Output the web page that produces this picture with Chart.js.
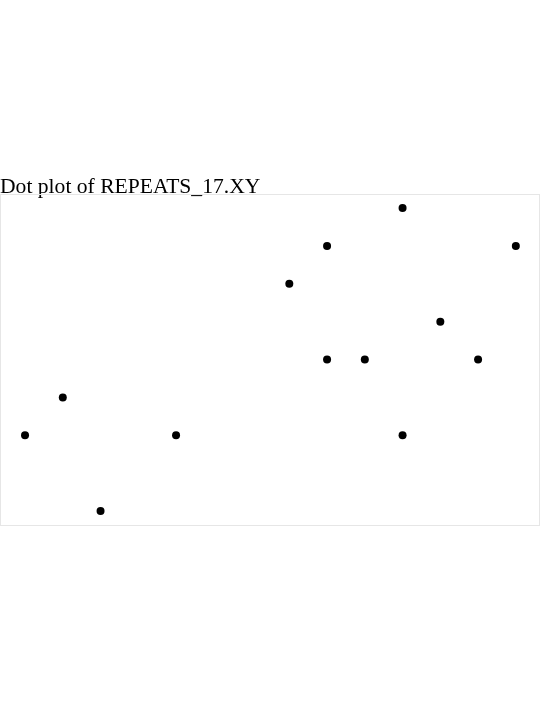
<!DOCTYPE html>
<html>
<head>
<meta charset="utf-8">
<script src="https://cdn.jsdelivr.net/npm/chart.js@4/dist/chart.umd.min.js"></script>
<style>
html,body{margin:0;padding:0;background:#fff;}
#wrap{width:540px;height:720px;position:relative;}
</style>
</head>
<body>
<div id="wrap"><canvas id="c" width="540" height="720"></canvas></div>
<script>
const titleText = "Dot plot of REPEATS_17.XY";
const xValues = [0, 1, 2, 4, 7, 8, 8, 9, 10, 10, 11, 12, 13];
const yValues = [2, 3, 0, 2, 6, 7, 4, 4, 8, 2, 5, 4, 7];
const xRange = [-0.663, 13.64];
const yRange = [-0.37, 8.37];

const points = xValues.map((x, i) => ({x: x, y: yValues[i]}));

const framePlugin = {
  id: 'frame',
  afterDraw(chart) {
    const {ctx, chartArea: a} = chart;
    ctx.save();
    ctx.strokeStyle = '#e6e6e6';
    ctx.lineWidth = 1;
    ctx.strokeRect(Math.round(a.left) + 0.5, Math.round(a.top) + 0.5,
                   Math.round(a.right - a.left) - 1, Math.round(a.bottom - a.top));
    ctx.restore();
  }
};

new Chart(document.getElementById('c'), {
  type: 'scatter',
  data: {
    datasets: [{
      data: points,
      backgroundColor: '#000',
      borderColor: '#000',
      pointRadius: 4,
      pointHoverRadius: 4,
      borderWidth: 0
    }]
  },
  options: {
    responsive: false,
    animation: false,
    events: [],
    layout: { autoPadding: false, padding: { top: 174.2, bottom: 195, left: 0, right: 0 } },
    plugins: {
      legend: { display: false },
      tooltip: { enabled: false },
      title: {
        display: true,
        text: titleText,
        align: 'start',
        color: '#000',
        font: { family: '"Liberation Serif", "Times New Roman", serif', size: 21.6, weight: 'normal' },
        padding: { top: 0, bottom: -6.1 }
      }
    },
    scales: {
      x: { type: 'linear', display: false, min: xRange[0], max: xRange[1] },
      y: { type: 'linear', display: false, min: yRange[0], max: yRange[1] }
    }
  },
  plugins: [framePlugin]
});
</script>
</body>
</html>
